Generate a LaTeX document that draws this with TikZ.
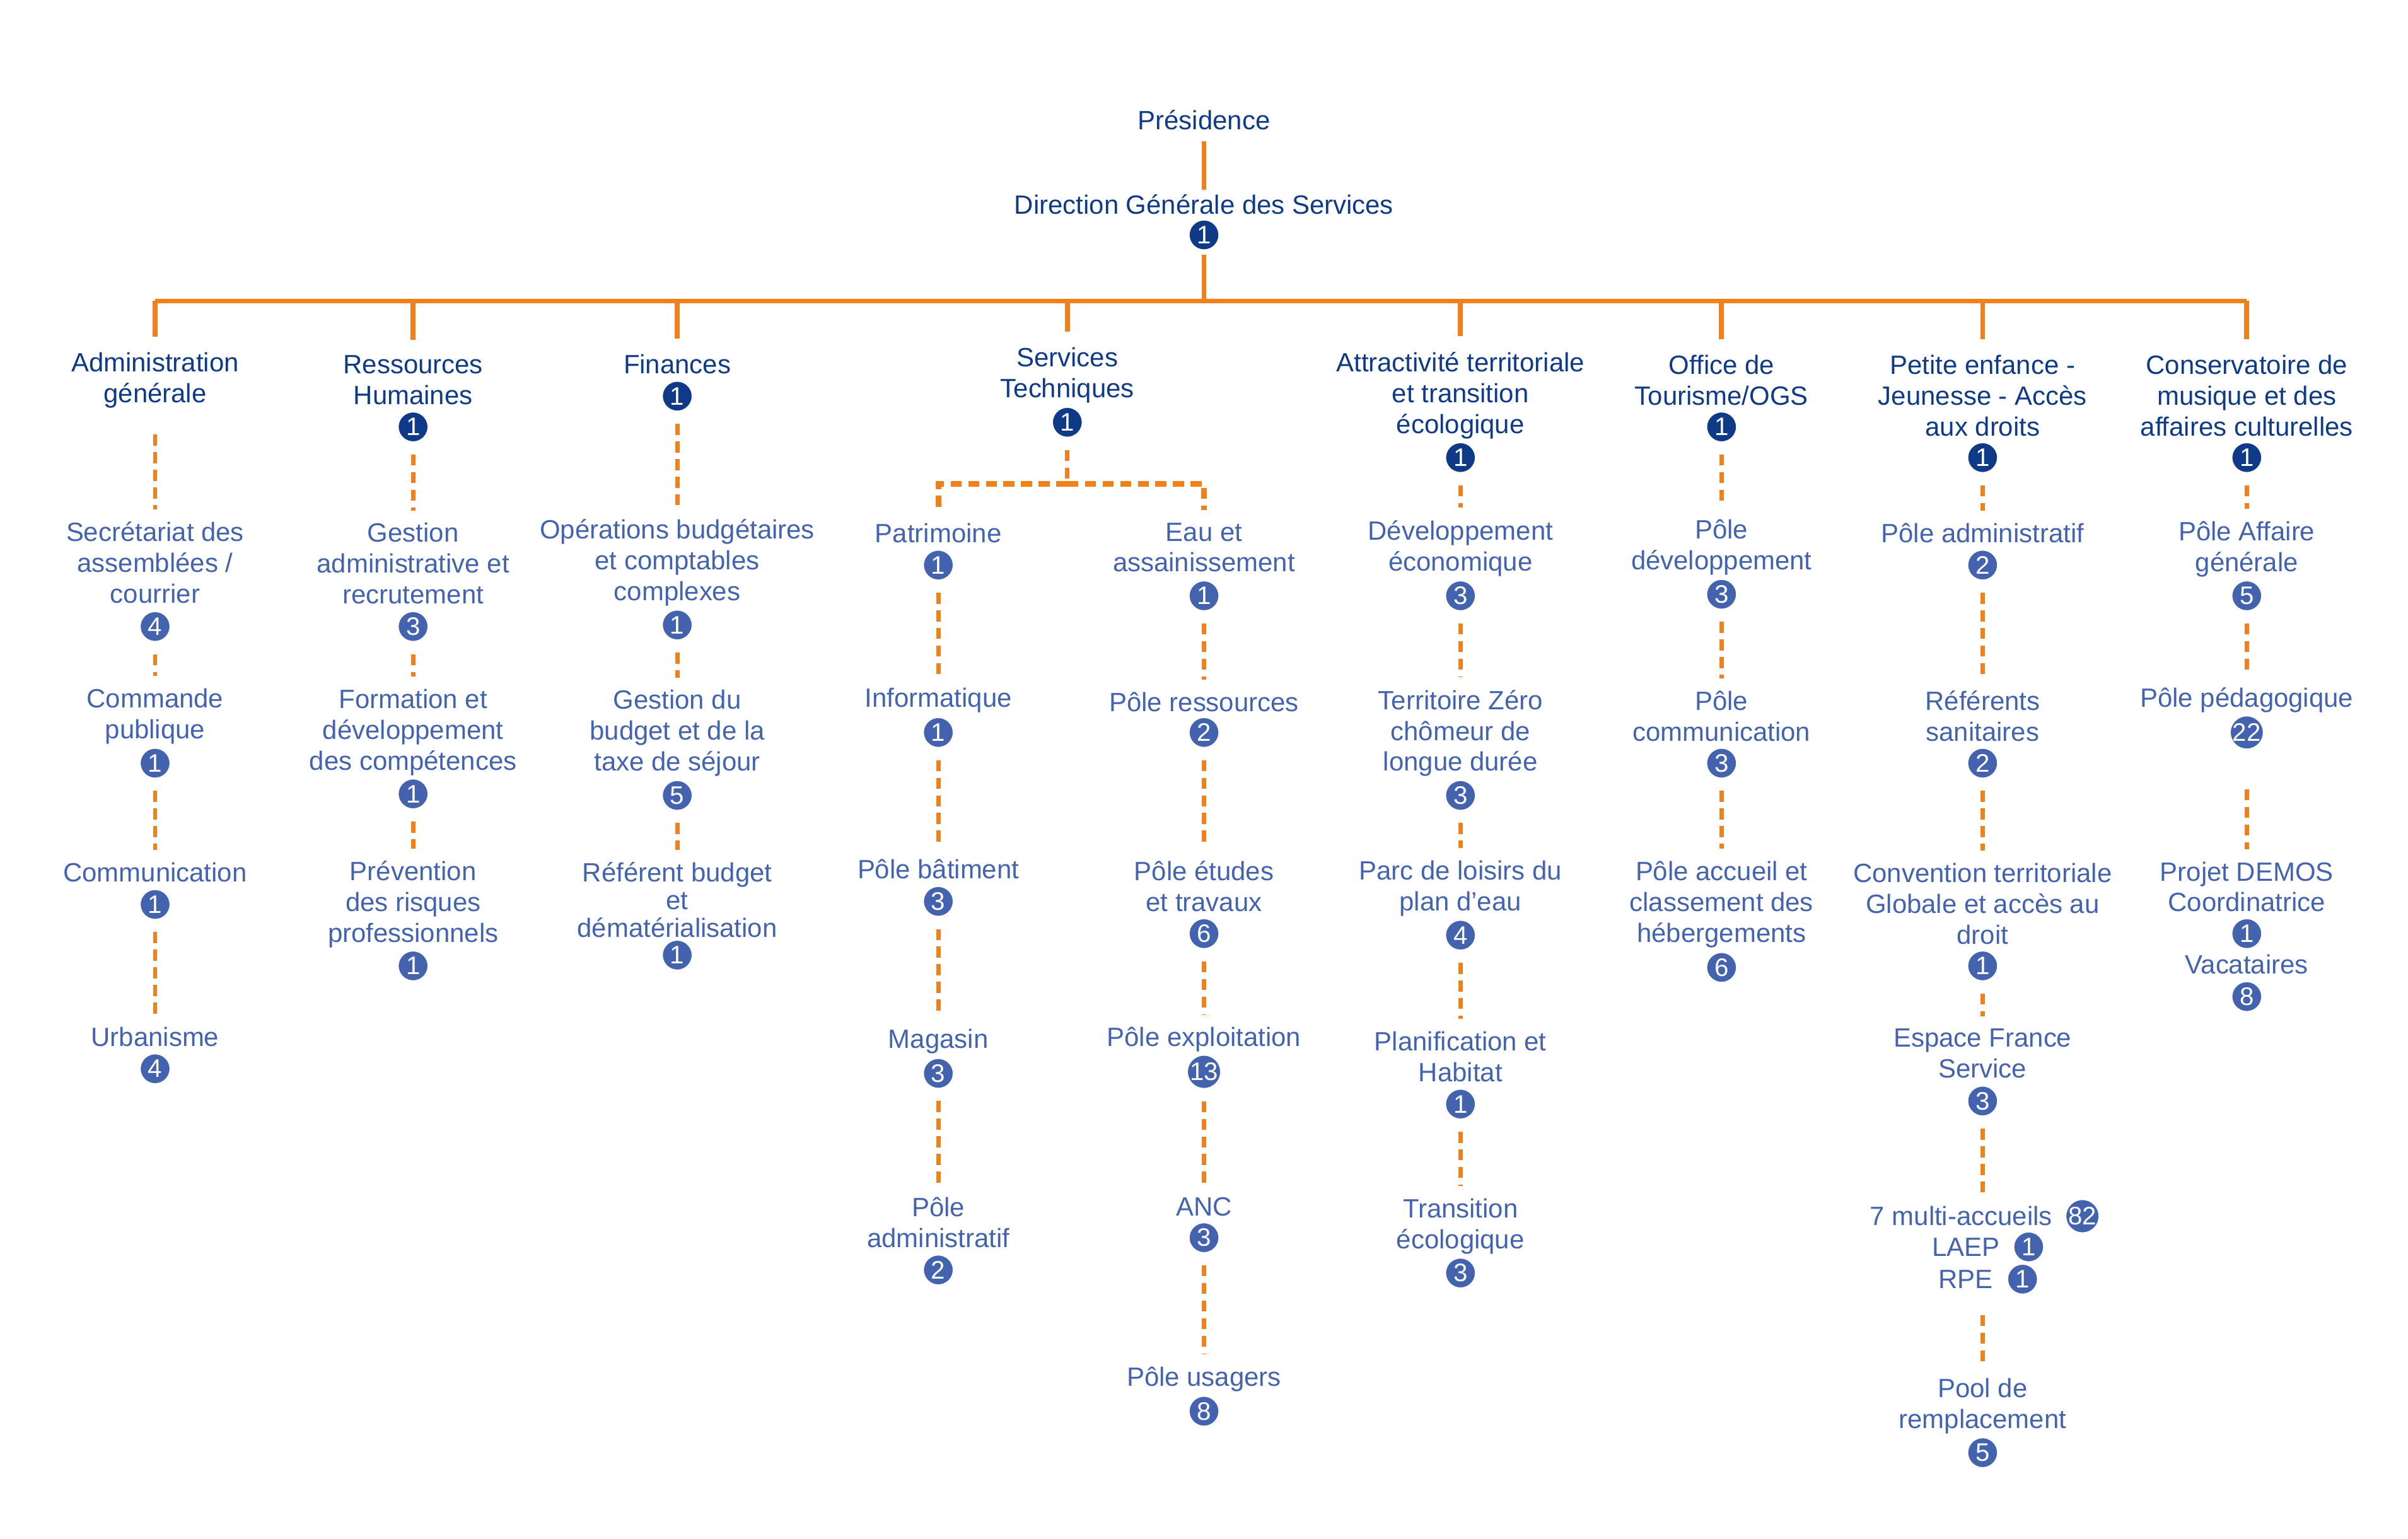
\documentclass[tikz,border=0pt]{standalone}
\usepackage{fontspec}
\setmainfont{Liberation Sans}
\usepackage{tikz}
\usetikzlibrary{calc}
\definecolor{ogsdark}{HTML}{0E3A87}
\definecolor{ogslight}{HTML}{4463AE}
\definecolor{ogsorange}{HTML}{F08019}
\tikzset{>=latex}
\tikzstyle{head}=[align=center,text=ogsdark,inner sep=0pt,font=\fontsize{12}{14}\selectfont]
\tikzstyle{unit}=[align=center,text=ogslight,inner sep=0pt,font=\fontsize{12}{14}\selectfont]
\tikzstyle{count}=[circle,fill=ogslight,draw=white,line width=0.5pt,text=white,inner sep=0pt,minimum size=13.6pt,font=\fontsize{11.5}{12}\selectfont]
\tikzstyle{headcount}=[count,fill=ogsdark]
\tikzstyle{link}=[draw=ogsorange,line width=2.2pt]
\tikzstyle{sublink}=[draw=ogsorange,line width=2pt,dash pattern=on 5pt off 3pt,shorten <=5.5pt,shorten >=5.5pt]

\begin{document}
\begin{tikzpicture}[x=0.0245cm,y=-0.0245cm]
	\useasboundingbox (0,0) rectangle (1568,1002);

	% top
	\node[head] (pres) at (784,78) {Présidence};
	\node[head] (dgs) at (784,133) {Direction Générale des Services};
	\node[headcount] (ndgs) at (784,153) {1};
	\coordinate (hub) at (784,196);

	% directions
	\node[head] (adm) at (101,247.5) {Administration\\générale};
	\node[head] (rh) at (269,247.5) {Ressources\\Humaines};
	\node[headcount] (nrh) at (269,278) {1};
	\node[head] (fin) at (441,237) {Finances};
	\node[headcount] (nfin) at (441,258) {1};
	\node[head] (st) at (695,244.5) {Services\\Techniques};
	\node[headcount] (nst) at (695,275) {1};
	\node[head] (attr) at (951,257.5) {Attractivité territoriale\\et transition\\écologique};
	\node[headcount] (nattr) at (951,298) {1};
	\node[head] (ot) at (1121,247.5) {Office de\\Tourisme/OGS};
	\node[headcount] (not) at (1121,278) {1};
	\node[head] (pe) at (1291,257.5) {Petite enfance -\\Jeunesse - Accès\\aux droits};
	\node[headcount] (npe) at (1291,298) {1};
	\node[head] (cons) at (1463,257.5) {Conservatoire de\\musique et des\\affaires culturelles};
	\node[headcount] (ncons) at (1463,298) {1};

	% administration generale
	\node[unit] (sec) at (101,366.5) {Secrétariat des\\assemblées /\\courrier};
	\node[count] (nsec) at (101,408) {4};
	\node[unit] (cmd) at (101,466.5) {Commande\\publique};
	\node[count] (ncmd) at (101,497) {1};
	\node[unit] (comm) at (101,568) {Communication};
	\node[count] (ncomm) at (101,589) {1};
	\node[unit] (urb) at (101,675) {Urbanisme};
	\node[count] (nurb) at (101,696) {4};

	% ressources humaines
	\node[unit] (gest) at (269,367) {Gestion\\administrative et\\recrutement};
	\node[count] (ngest) at (269,408) {3};
	\node[unit] (form) at (269,477) {Formation et\\développement\\des compétences};
	\node[count] (nform) at (269,517) {1};
	\node[unit] (prev) at (269,589) {Prévention\\des risques\\professionnels};
	\node[count] (nprev) at (269,629) {1};

	% finances
	\node[unit] (oper) at (441,366.5) {Opérations budgétaires\\et comptables\\complexes};
	\node[count] (noper) at (441,407) {1};
	\node[unit] (gbud) at (441,477.5) {Gestion du\\budget et de la\\taxe de séjour};
	\node[count] (ngbud) at (441,518) {5};
	\node[unit,font=\fontsize{12}{12.6}\selectfont] (refb) at (441,586) {Référent budget\\et\\dématérialisation};
	\node[count] (nrefb) at (441,622) {1};

	% services techniques
	\coordinate (split) at (695,315);
	\node[unit] (patr) at (611,347) {Patrimoine};
	\node[count] (npatr) at (611,368) {1};
	\node[unit] (info) at (611,456) {Informatique};
	\node[count] (ninfo) at (611,477) {1};
	\node[unit] (bat) at (611,566) {Pôle bâtiment};
	\node[count] (nbat) at (611,587) {3};
	\node[unit] (mag) at (611,678) {Magasin};
	\node[count] (nmag) at (611,699) {3};
	\node[unit] (padm) at (611,796) {Pôle\\administratif};
	\node[count] (npadm) at (611,827) {2};

	\node[unit] (eau) at (784,356.5) {Eau et\\assainissement};
	\node[count] (neau) at (784,388) {1};
	\node[unit] (pres2) at (784,457) {Pôle ressources};
	\node[count] (npres2) at (784,477) {2};
	\node[unit] (etu) at (784,577) {Pôle études\\et travaux};
	\node[count] (netu) at (784,608) {6};
	\node[unit] (expl) at (784,677) {Pôle exploitation};
	\node[count] (nexpl) at (784,698) {13};
	\node[unit] (anc) at (784,786) {ANC};
	\node[count] (nanc) at (784,806) {3};
	\node[unit] (usa) at (784,898) {Pôle usagers};
	\node[count] (nusa) at (784,919) {8};

	% attractivite
	\node[unit] (dev) at (951,357) {Développement\\économique};
	\node[count] (ndev) at (951,388) {3};
	\node[unit] (tzc) at (951,477.5) {Territoire Zéro\\chômeur de\\longue durée};
	\node[count] (ntzc) at (951,518) {3};
	\node[unit] (parc) at (951,578.5) {Parc de loisirs du\\plan d’eau};
	\node[count] (nparc) at (951,609) {4};
	\node[unit] (plan) at (951,688) {Planification et\\Habitat};
	\node[count] (nplan) at (951,719) {1};
	\node[unit] (trans) at (951,798.5) {Transition\\écologique};
	\node[count] (ntrans) at (951,829) {3};

	% office de tourisme
	\node[unit] (pdev) at (1121,356.5) {Pôle\\développement};
	\node[count] (npdev) at (1121,387) {3};
	\node[unit] (pcom) at (1121,466.5) {Pôle\\communication};
	\node[count] (npcom) at (1121,497) {3};
	\node[unit] (pacc) at (1121,589) {Pôle accueil et\\classement des\\hébergements};
	\node[count] (npacc) at (1121,630) {6};

	% petite enfance
	\node[unit] (padmi) at (1291,347) {Pôle administratif};
	\node[count] (npadmi) at (1291,368) {2};
	\node[unit] (refs) at (1291,466.5) {Référents\\sanitaires};
	\node[count] (nrefs) at (1291,497) {2};
	\node[unit] (ctg) at (1291,588.5) {Convention territoriale\\Globale et accès au\\droit};
	\node[count] (nctg) at (1291,629) {1};
	\node[unit] (efs) at (1291,686) {Espace France\\Service};
	\node[count] (nefs) at (1291,717) {3};
	\node[unit] (multi) at (1277,792) {7 multi-accueils};
	\node[count] (nmulti) at (1356,792) {82};
	\node[unit] (laep) at (1280,812) {LAEP};
	\node[count] (nlaep) at (1321,812) {1};
	\node[unit] (rpe) at (1280,833) {RPE};
	\node[count] (nrpe) at (1317,833) {1};
	\node[unit] (pool) at (1291,915.5) {Pool de\\remplacement};
	\node[count] (npool) at (1291,946) {5};

	% conservatoire
	\node[unit] (paff) at (1463,357.5) {Pôle Affaire\\générale};
	\node[count] (npaff) at (1463,388) {5};
	\node[unit] (ped) at (1463,456) {Pôle pédagogique};
	\node[count] (nped) at (1463,477) {22};
	\node[unit] (demos) at (1463,577.5) {Projet DEMOS\\Coordinatrice};
	\node[count] (ndemos) at (1463,608) {1};
	\node[unit] (vac) at (1463,628) {Vacataires};
	\node[count] (nvac) at (1463,649) {8};

	% solid links
	\draw[link,shorten <=5pt,shorten >=2pt] (pres) -- (dgs);
	\draw[link,shorten <=2pt] (ndgs) -- (hub);
	\draw[link] (adm |- hub) -- (cons |- hub);
	\foreach \d in {adm,rh,fin,st,attr,ot,pe,cons}
		\draw[link,shorten >=7pt] (\d |- hub) -- (\d);

	% dashed links
	\draw[sublink,shorten <=12pt] (adm) -- (sec);
	\foreach \a/\b in {nsec/cmd,ncmd/comm,ncomm/urb,
		nrh/gest,ngest/form,nform/prev,
		nfin/oper,noper/gbud,ngbud/refb,
		npatr/info,ninfo/bat,nbat/mag,nmag/padm,
		neau/pres2,npres2/etu,netu/expl,nexpl/anc,nanc/usa,
		nattr/dev,ndev/tzc,ntzc/parc,nparc/plan,nplan/trans,
		not/pdev,npdev/pcom,npcom/pacc,
		npe/padmi,npadmi/refs,nrefs/ctg,nctg/efs,
		ncons/paff,npaff/ped}
		\draw[sublink] (\a) -- (\b);
	\draw[sublink] (nefs) -- (nefs |- multi.north);
	\draw[sublink,shorten <=12pt] (rpe.south -| pool) -- (pool);
	\draw[sublink,shorten <=18pt] (nped) -- (demos);
	\draw[sublink,shorten >=0pt] (nst) -- (split);
	\draw[sublink,line width=2.6pt,shorten <=0pt] (split) -| (patr);
	\draw[sublink,line width=2.6pt,shorten <=0pt] (split) -| (eau);
\end{tikzpicture}
\end{document}
